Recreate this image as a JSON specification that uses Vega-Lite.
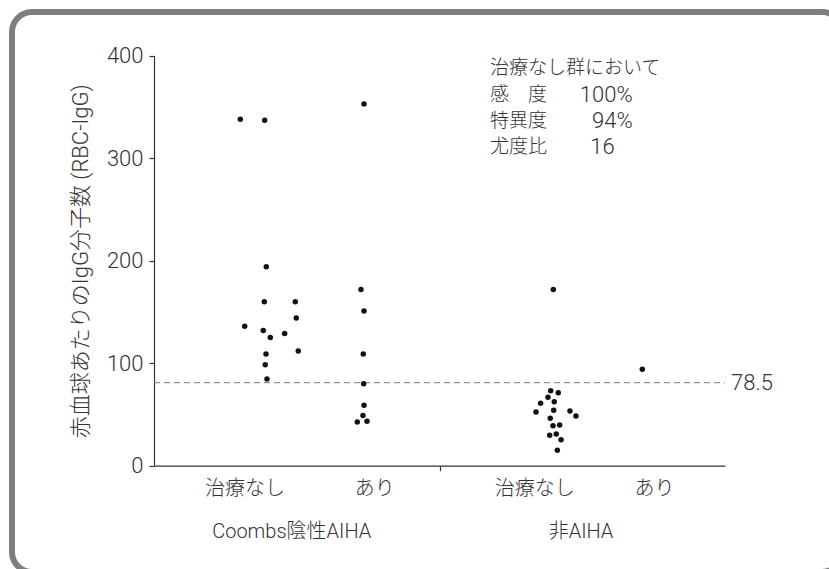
{
  "$schema": "https://vega.github.io/schema/vega-lite/v6.json",
  "width": 830,
  "height": 560,
  "autosize": "none",
  "padding": {"left": 12, "top": 12, "right": 0, "bottom": 0},
  "background": "white",
  "config": {
    "view": {"stroke": "#7e7e82", "strokeWidth": 6, "cornerRadius": 20},
    "font": "Roboto, Noto Sans CJK JP",
    "text": {"font": "Roboto, Noto Sans CJK JP", "color": "#333333", "fontWeight": 300}
  },
  "datasets": {
    "points": [
      {"group": "Coombs陰性AIHA", "treat": "治療なし", "x": 0.907, "y": 338},
      {"group": "Coombs陰性AIHA", "treat": "治療なし", "x": 1.163, "y": 337},
      {"group": "Coombs陰性AIHA", "treat": "治療なし", "x": 1.180, "y": 194},
      {"group": "Coombs陰性AIHA", "treat": "治療なし", "x": 1.159, "y": 160},
      {"group": "Coombs陰性AIHA", "treat": "治療なし", "x": 1.485, "y": 160},
      {"group": "Coombs陰性AIHA", "treat": "治療なし", "x": 1.495, "y": 144},
      {"group": "Coombs陰性AIHA", "treat": "治療なし", "x": 0.953, "y": 136},
      {"group": "Coombs陰性AIHA", "treat": "治療なし", "x": 1.148, "y": 132},
      {"group": "Coombs陰性AIHA", "treat": "治療なし", "x": 1.222, "y": 125},
      {"group": "Coombs陰性AIHA", "treat": "治療なし", "x": 1.373, "y": 129},
      {"group": "Coombs陰性AIHA", "treat": "治療なし", "x": 1.516, "y": 112},
      {"group": "Coombs陰性AIHA", "treat": "治療なし", "x": 1.177, "y": 109},
      {"group": "Coombs陰性AIHA", "treat": "治療なし", "x": 1.169, "y": 98.5},
      {"group": "Coombs陰性AIHA", "treat": "治療なし", "x": 1.187, "y": 84.6},
      {"group": "Coombs陰性AIHA", "treat": "あり", "x": 2.207, "y": 353},
      {"group": "Coombs陰性AIHA", "treat": "あり", "x": 2.175, "y": 172},
      {"group": "Coombs陰性AIHA", "treat": "あり", "x": 2.207, "y": 151},
      {"group": "Coombs陰性AIHA", "treat": "あり", "x": 2.199, "y": 109},
      {"group": "Coombs陰性AIHA", "treat": "あり", "x": 2.203, "y": 80},
      {"group": "Coombs陰性AIHA", "treat": "あり", "x": 2.207, "y": 59},
      {"group": "Coombs陰性AIHA", "treat": "あり", "x": 2.196, "y": 49},
      {"group": "Coombs陰性AIHA", "treat": "あり", "x": 2.136, "y": 42.6},
      {"group": "Coombs陰性AIHA", "treat": "あり", "x": 2.238, "y": 43.3},
      {"group": "非AIHA", "treat": "治療なし", "x": 4.196, "y": 172},
      {"group": "非AIHA", "treat": "治療なし", "x": 4.168, "y": 73.2},
      {"group": "非AIHA", "treat": "治療なし", "x": 4.248, "y": 71.2},
      {"group": "非AIHA", "treat": "治療なし", "x": 4.140, "y": 66.7},
      {"group": "非AIHA", "treat": "治療なし", "x": 4.063, "y": 60.9},
      {"group": "非AIHA", "treat": "治療なし", "x": 4.206, "y": 62.4},
      {"group": "非AIHA", "treat": "治療なし", "x": 4.014, "y": 52.4},
      {"group": "非AIHA", "treat": "治療なし", "x": 4.200, "y": 54.0},
      {"group": "非AIHA", "treat": "治療なし", "x": 4.371, "y": 53.4},
      {"group": "非AIHA", "treat": "治療なし", "x": 4.434, "y": 48.5},
      {"group": "非AIHA", "treat": "治療なし", "x": 4.164, "y": 46.2},
      {"group": "非AIHA", "treat": "治療なし", "x": 4.193, "y": 39.0},
      {"group": "非AIHA", "treat": "治療なし", "x": 4.263, "y": 39.7},
      {"group": "非AIHA", "treat": "治療なし", "x": 4.158, "y": 29.7},
      {"group": "非AIHA", "treat": "治療なし", "x": 4.227, "y": 30.9},
      {"group": "非AIHA", "treat": "治療なし", "x": 4.277, "y": 25.4},
      {"group": "非AIHA", "treat": "治療なし", "x": 4.238, "y": 15.0},
      {"group": "非AIHA", "treat": "あり", "x": 5.131, "y": 94}
    ],
    "cats": [
      {"label": "治療なし", "x": 0.956},
      {"label": "あり", "x": 2.32},
      {"label": "治療なし", "x": 4.0},
      {"label": "あり", "x": 5.26}
    ],
    "groups": [
      {"label": "Coombs陰性AIHA", "x": 1.447},
      {"label": "非AIHA", "x": 4.487}
    ],
    "notes": [
      {"label": "治療なし群において", "y": 388},
      {"label": "感　度", "y": 362},
      {"label": "特異度", "y": 336},
      {"label": "尤度比", "y": 311}
    ],
    "stats": [
      {"value": "100%", "x": 5.03, "y": 362},
      {"value": "94%", "x": 5.03, "y": 336},
      {"value": "16", "x": 4.84, "y": 311}
    ],
    "cutoff": [
      {"y": 81, "label": "78.5"}
    ]
  },
  "layer": [
    {
      "data": {"name": "cutoff"},
      "mark": {"type": "rule", "color": "#7a7a7a", "strokeWidth": 1, "strokeDash": [6, 4]},
      "encoding": {
        "x": {"datum": 0, "type": "quantitative", "scale": {"domain": [0, 6], "range": [142, 713]}, "axis": {"values": [3], "labels": false, "tickSize": 5, "offset": -106.3, "title": null, "grid": false, "domainColor": "#333333", "tickColor": "#333333", "domainWidth": 1.2, "tickWidth": 1.2}},
        "x2": {"datum": 6},
        "y": {"field": "y", "type": "quantitative", "scale": {"domain": [0, 400], "range": [453.7, 43.7]}, "axis": {"values": [0, 100, 200, 300, 400], "offset": -142, "tickSize": 5, "labelPadding": 6, "labelFontSize": 22, "labelFontWeight": 300, "labelColor": "#333333", "labelFont": "Roboto", "title": "赤血球あたりのIgG分子数 (RBC-IgG)", "titleFontSize": 22, "titleFontWeight": 300, "titleColor": "#333333", "titleFont": "Roboto, Noto Sans CJK JP", "titlePadding": 14, "grid": false, "domainColor": "#333333", "tickColor": "#333333", "domainWidth": 1.2, "tickWidth": 1.2}}
      }
    },
    {
      "data": {"name": "cutoff"},
      "mark": {"type": "text", "align": "left", "baseline": "middle", "dx": 6, "fontSize": 22},
      "encoding": {
        "x": {"datum": 6, "type": "quantitative"},
        "y": {"field": "y", "type": "quantitative"},
        "text": {"field": "label"}
      }
    },
    {
      "data": {"name": "points"},
      "mark": {"type": "point", "filled": true, "shape": "circle", "size": 30, "color": "#111111", "opacity": 1},
      "encoding": {
        "x": {"field": "x", "type": "quantitative"},
        "y": {"field": "y", "type": "quantitative"}
      }
    },
    {
      "data": {"name": "cats"},
      "mark": {"type": "text", "align": "center", "baseline": "middle", "fontSize": 20},
      "encoding": {
        "x": {"field": "x", "type": "quantitative"},
        "y": {"datum": -23, "type": "quantitative"},
        "text": {"field": "label"}
      }
    },
    {
      "data": {"name": "groups"},
      "mark": {"type": "text", "align": "center", "baseline": "middle", "fontSize": 20},
      "encoding": {
        "x": {"field": "x", "type": "quantitative"},
        "y": {"datum": -65, "type": "quantitative"},
        "text": {"field": "label"}
      }
    },
    {
      "data": {"name": "notes"},
      "mark": {"type": "text", "align": "left", "baseline": "middle", "fontSize": 19},
      "encoding": {
        "x": {"datum": 3.53, "type": "quantitative"},
        "y": {"field": "y", "type": "quantitative"},
        "text": {"field": "label"}
      }
    },
    {
      "data": {"name": "stats"},
      "mark": {"type": "text", "align": "right", "baseline": "middle", "fontSize": 22},
      "encoding": {
        "x": {"field": "x", "type": "quantitative"},
        "y": {"field": "y", "type": "quantitative"},
        "text": {"field": "value"}
      }
    }
  ]
}
